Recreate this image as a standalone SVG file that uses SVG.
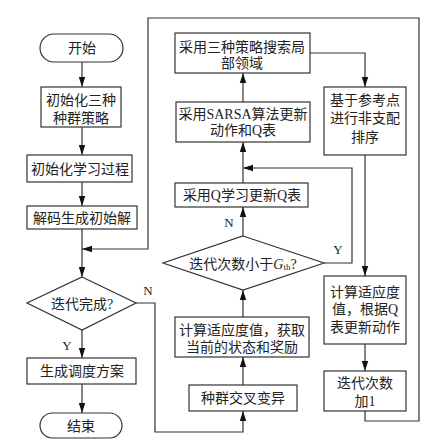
<svg xmlns="http://www.w3.org/2000/svg" width="443" height="446" viewBox="0 0 443 446">
<style>
.b{fill:#fff;stroke:#333;stroke-width:1.2}
.c{fill:none;stroke:#333;stroke-width:1.2}
text{font-family:"Liberation Serif","Noto Sans CJK SC",serif;font-size:14px;fill:#222;text-anchor:middle;dominant-baseline:central}
.l{font-size:13px}
</style>
<defs>
<marker id="a" markerUnits="userSpaceOnUse" markerWidth="10" markerHeight="10" viewBox="0 0 10 10" refX="10" refY="5" orient="auto">
<path d="M0,1.8 L10,5 L0,8.2 Z" fill="#111"/>
</marker>
</defs>
<rect width="443" height="446" fill="#fff"/>
<g id="connectors">
<path class="c" d="M82,62 V87" marker-end="url(#a)"/>
<path class="c" d="M82,127 V155" marker-end="url(#a)"/>
<path class="c" d="M82,182 V206" marker-end="url(#a)"/>
<path class="c" d="M82,229 V277" marker-end="url(#a)"/>
<path class="c" d="M82,330 V358" marker-end="url(#a)"/>
<path class="c" d="M82,384 V413" marker-end="url(#a)"/>
<path class="c" d="M136,303 H155 V432 H243 V411" marker-end="url(#a)"/>
<path class="c" d="M243,385 V357" marker-end="url(#a)"/>
<path class="c" d="M243,317 V290" marker-end="url(#a)"/>
<path class="c" d="M243,236 V207" marker-end="url(#a)"/>
<path class="c" d="M243,183 V142" marker-end="url(#a)"/>
<path class="c" d="M243,102 V73" marker-end="url(#a)"/>
<path class="c" d="M324,263 H352 V168 H243" marker-end="url(#a)"/>
<path class="c" d="M310,53 H365 V87" marker-end="url(#a)"/>
<path class="c" d="M365,155 V276" marker-end="url(#a)"/>
<path class="c" d="M365,344 V371" marker-end="url(#a)"/>
<path class="c" d="M365,411 V421 H419 V18 H148 V249 H82" marker-end="url(#a)"/>
<text class="l" x="67" y="345">Y</text>
<text class="l" x="148" y="290">N</text>
<text class="l" x="229" y="222">N</text>
<text class="l" x="338" y="249">Y</text>
</g>
<g id="start"><rect class="b" x="40" y="34" width="83" height="28" rx="14"/><text x="82" y="48">开始</text></g>
<g id="init-pop"><rect class="b" x="41" y="87" width="80" height="40"/><text x="81" y="100">初始化三种</text><text x="81" y="118">种群策略</text></g>
<g id="init-learn"><rect class="b" x="27" y="155" width="105" height="27"/><text x="80" y="169">初始化学习过程</text></g>
<g id="decode"><rect class="b" x="27" y="206" width="110" height="23"/><text x="82" y="218">解码生成初始解</text></g>
<g id="done"><path class="b" d="M82,277 L136,303 L82,330 L27,303 Z"/><text x="82" y="304">迭代完成?</text></g>
<g id="schedule"><rect class="b" x="27" y="358" width="109" height="26"/><text x="82" y="371">生成调度方案</text></g>
<g id="end"><rect class="b" x="40" y="413" width="82" height="25" rx="12.5"/><text x="81" y="426">结束</text></g>
<g id="local-search"><rect class="b" x="175" y="33" width="135" height="40"/><text x="242" y="47">采用三种策略搜索局</text><text x="242" y="63">部领域</text></g>
<g id="sarsa"><rect class="b" x="176" y="102" width="134" height="40"/><text x="243" y="114">采用SARSA算法更新</text><text x="243" y="130">动作和Q表</text></g>
<g id="qlearn"><rect class="b" x="175" y="183" width="133" height="24"/><text x="242" y="195">采用Q学习更新Q表</text></g>
<g id="iter-lt"><path class="b" d="M243,236 L324,263 L243,290 L163,263 Z"/><text x="243" y="264">迭代次数小于<tspan font-style="italic">G</tspan><tspan font-size="9" dy="3">th</tspan><tspan dy="-3">?</tspan></text></g>
<g id="fitness-state"><rect class="b" x="175" y="317" width="134" height="40"/><text x="242" y="330">计算适应度值，获取</text><text x="242" y="347">当前的状态和奖励</text></g>
<g id="crossover"><rect class="b" x="189" y="385" width="108" height="26"/><text x="243" y="398">种群交叉变异</text></g>
<g id="nondom"><rect class="b" x="324" y="87" width="82" height="68"/><text x="365" y="100">基于参考点</text><text x="365" y="118">进行非支配</text><text x="365" y="137">排序</text></g>
<g id="fitness-q"><rect class="b" x="324" y="276" width="82" height="68"/><text x="365" y="292">计算适应度</text><text x="365" y="309">值，根据Q</text><text x="365" y="327">表更新动作</text></g>
<g id="iter-inc"><rect class="b" x="324" y="371" width="82" height="40"/><text x="365" y="383">迭代次数</text><text x="365" y="401">加1</text></g>
</svg>
